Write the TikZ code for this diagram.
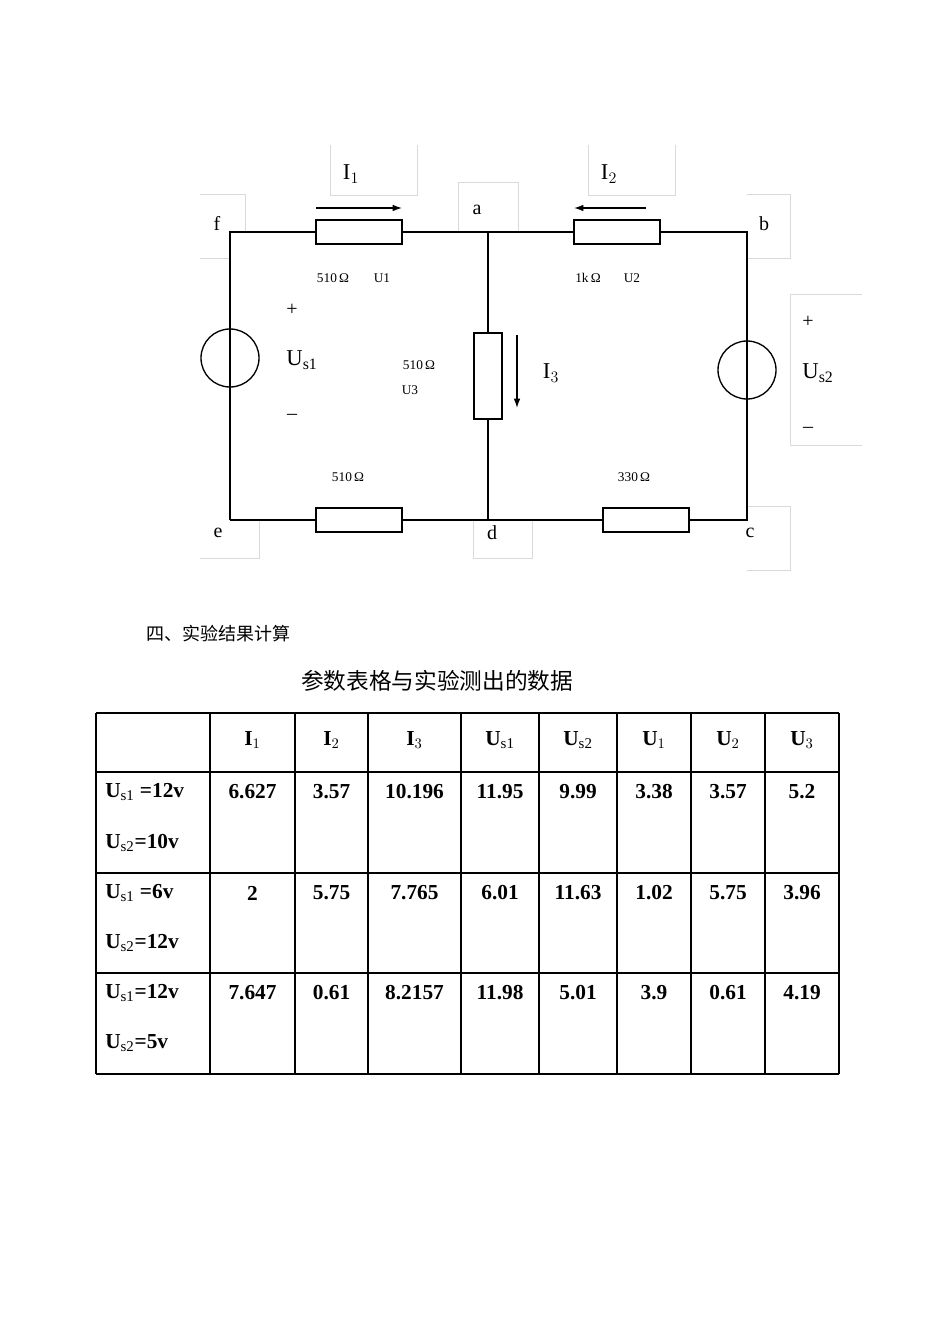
\documentclass[tikz,border=0pt]{standalone}
\usepackage{fontspec}
\setmainfont{Liberation Serif}
\newfontfamily\cjk{Noto Sans CJK SC}
\begin{document}
\begin{tikzpicture}[x=0.75pt,y=-0.75pt,
  wire/.style={line width=1.3pt},
  res/.style={draw,line width=1pt,fill=white},
  gbox/.style={draw=black!15,line width=0.6pt},
  lab/.style={font=\fontsize{15}{15}\selectfont,inner sep=0pt},
  sm/.style={font=\fontsize{10}{10}\selectfont,inner sep=0pt},
  cur/.style={line width=1pt,-{Latex[length=7pt,width=5pt]}},
  tb/.style={font=\fontsize{16}{16}\selectfont\bfseries,inner sep=0pt}]
\usetikzlibrary{arrows.meta}
\useasboundingbox (0,0) rectangle (950,1344);
% light gray frames
\draw[gbox] (330,145)--(330,195)--(417,195)--(417,145);
\draw[gbox] (588,145)--(588,195)--(675,195)--(675,145);
\draw[gbox] (458,232)--(458,182)--(518,182)--(518,232);
\draw[gbox] (200,194)--(245,194)--(245,232);
\draw[gbox] (200,258)--(230,258);
\draw[gbox] (747,194)--(790,194)--(790,258)--(747,258);
\draw[gbox] (862,294)--(790,294)--(790,445)--(862,445);
\draw[gbox] (259,520)--(259,558)--(200,558);
\draw[gbox] (473,520)--(473,558)--(532,558)--(532,520);
\draw[gbox] (747,506)--(790,506)--(790,570)--(747,570);
% nodes
\coordinate (f) at (230,232); \coordinate (a) at (488,232);
\coordinate (b) at (747,232); \coordinate (c) at (747,520);
\coordinate (d) at (488,520); \coordinate (e) at (230,520);
\draw[wire] (e)--(f)--(b)--(c)--(e);
\draw[wire,line width=1pt] (a)--(d);
\node[res,minimum width=64.5pt,minimum height=18pt] (R1) at (359,232) {};
\node[res,minimum width=64.5pt,minimum height=18pt] (R2) at (617,232) {};
\node[res,minimum width=64.5pt,minimum height=18pt] (R4) at (359,520) {};
\node[res,minimum width=64.5pt,minimum height=18pt] (R5) at (646,520) {};
\node[res,minimum width=21pt,minimum height=64.5pt] (R3) at (488,376) {};
\node[circle,draw,line width=1pt,minimum size=43.5pt] (S1) at (230,358) {};
\node[circle,draw,line width=1pt,minimum size=43.5pt] (S2) at (747,370) {};
\draw[line width=1pt] (S1.north)--(S1.south);
\draw[line width=1pt] (S2.north)--(S2.south);
% current arrows
\coordinate (i1a) at (316,208); \coordinate (i1b) at (402,208);
\coordinate (i2a) at (646,208); \coordinate (i2b) at (574,208);
\coordinate (i3a) at (517,335); \coordinate (i3b) at (517,408);
\draw[cur] (i1a)--(i1b); \draw[cur] (i2a)--(i2b); \draw[cur] (i3a)--(i3b);
% labels
\node[lab] (lf) at (217,223) {f};
\node[lab] (la) at (477,210) {a};
\node[lab] (lb) at (764,224) {b};
\node[lab] (le) at (218,533) {e};
\node[lab] (ld) at (492,533) {d};
\node[lab] (lc) at (750,533) {c};
\node[lab,font=\fontsize{17}{17}\selectfont] (I1) at (351,174) {I$_1$};
\node[lab,font=\fontsize{17}{17}\selectfont] (I2) at (609,174) {I$_2$};
\node[lab,font=\fontsize{17}{17}\selectfont] (I3) at (551,373) {I$_3$};
\node[sm] (t1) at (333,278) {510\,Ω};
\node[sm] (u1) at (382,278) {U1};
\node[sm] (t2) at (588,278) {1k\,Ω};
\node[sm] (u2) at (632,278) {U2};
\node[sm] (t3) at (419,365) {510\,Ω};
\node[sm] (u3) at (410,390) {U3};
\node[sm] (t4) at (348,477) {510\,Ω};
\node[sm] (t5) at (634,477) {330\,Ω};
\node[lab] (p1) at (292,310) {+};
\node[lab,font=\fontsize{17}{17}\selectfont] (us1) at (302,360) {U$_{\mathrm{s1}}$};
\node[lab] (m1) at (292,417) {–};
\node[lab] (p2) at (808,322) {+};
\node[lab,font=\fontsize{17}{17}\selectfont] (us2) at (818,373) {U$_{\mathrm{s2}}$};
\node[lab] (m2) at (808,430) {–};
% headings
\node[anchor=west,inner sep=0pt,font=\cjk\fontsize{13.5}{14}\selectfont] (h1) at (146,634) {四、实验结果计算};
\node[inner sep=0pt,font=\cjk\fontsize{17}{18}\selectfont] (h2) at (437,681) {参数表格与实验测出的数据};
% table
\foreach \x in {96,210,295,368,461,539,617,691,765,839} \draw[line width=0.8pt] (\x,713)--(\x,1074);
\foreach \y in {713,772,873,973,1074} \draw[line width=0.8pt] (96,\y)--(839,\y);
\foreach \t [count=\i] in {I$_1$,I$_2$,I$_3$,U$_{\mathrm{s1}}$,U$_{\mathrm{s2}}$,U$_1$,U$_2$,U$_3$}{
  \pgfmathsetmacro\xa{{96,210,295,368,461,539,617,691,765,839}[\i]}
  \pgfmathsetmacro\xb{{96,210,295,368,461,539,617,691,765,839}[\i+1]}
  \node[tb] (hd\i) at ({(\xa+\xb)/2},740) {\t};}
\foreach \r/\y/\vals in {1/792/{6.627,3.57,10.196,11.95,9.99,3.38,3.57,5.2},2/893/{2,5.75,7.765,6.01,11.63,1.02,5.75,3.96},3/993/{7.647,0.61,8.2157,11.98,5.01,3.9,0.61,4.19}}{
  \foreach \v [count=\i] in \vals {
    \pgfmathsetmacro\xa{{96,210,295,368,461,539,617,691,765,839}[\i]}
    \pgfmathsetmacro\xb{{96,210,295,368,461,539,617,691,765,839}[\i+1]}
    \node[tb] (v\r\i) at ({(\xa+\xb)/2},\y) {\v};}}
\node[tb,anchor=west] (r1a) at (105,792) {U$_{\mathrm{s1}}$ =12v};
\node[tb,anchor=west] (r1b) at (105,843) {U$_{\mathrm{s2}}$=10v};
\node[tb,anchor=west] (r2a) at (105,893) {U$_{\mathrm{s1}}$ =6v};
\node[tb,anchor=west] (r2b) at (105,943) {U$_{\mathrm{s2}}$=12v};
\node[tb,anchor=west] (r3a) at (105,993) {U$_{\mathrm{s1}}$=12v};
\node[tb,anchor=west] (r3b) at (105,1043) {U$_{\mathrm{s2}}$=5v};
\end{tikzpicture}
\end{document}
